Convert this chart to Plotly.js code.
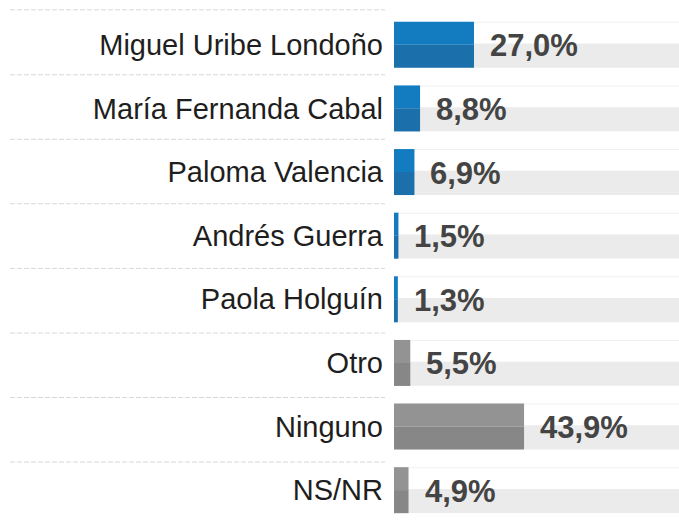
<!DOCTYPE html>
<html>
<head>
<meta charset="utf-8">
<script src="https://cdn.plot.ly/plotly-3.0.1.min.js"></script>
<style>html,body{margin:0;padding:0;background:#fff;}#chart{width:679px;height:525px;}</style>
</head>
<body>
<div id="chart"></div>
<script>
// Data
var categories = ["Miguel Uribe Londoño", "María Fernanda Cabal", "Paloma Valencia", "Andrés Guerra", "Paola Holguín", "Otro", "Ninguno", "NS/NR"];
var values = [27.0, 8.8, 6.9, 1.5, 1.3, 5.5, 43.9, 4.9];
var groups = ["candidato", "candidato", "candidato", "candidato", "candidato", "otro", "otro", "otro"];

// Styles
var XMAX = 96.2;
var topColor = {candidato: "#137cc1", otro: "#939393"};
var botColor = {candidato: "#1b70ab", otro: "#878787"};
var full = categories.map(function(){ return XMAX; });
var fmt = function(v){ return v.toFixed(1).replace(".", ",") + "%"; };

var traces = [
  { type: "bar", orientation: "h", y: categories, x: full, base: 0,
    offset: -0.02, width: 0.38, marker: {color: "#ebebeb"}, hoverinfo: "skip", showlegend: false },
  { type: "bar", orientation: "h", y: categories, x: full, base: 0,
    offset: -0.3615, width: 0.016, marker: {color: "#f1f1f1"}, hoverinfo: "skip", showlegend: false },
  { type: "bar", orientation: "h", y: categories, x: values,
    offset: -0.3615, width: 0.362, marker: {color: groups.map(function(g){ return topColor[g]; })},
    hoverinfo: "skip", showlegend: false },
  { type: "bar", orientation: "h", y: categories, x: values,
    offset: -0.0015, width: 0.363, marker: {color: groups.map(function(g){ return botColor[g]; })},
    hoverinfo: "skip", showlegend: false }
];

var annotations = categories.map(function(c, i){
  return { x: values[i], y: c, xref: "x", yref: "y", text: fmt(values[i]),
    showarrow: false, xanchor: "left", yanchor: "middle", xshift: 14, yshift: -1,
    font: {family: "Liberation Sans, Arial, sans-serif", size: 31, color: "#444444", weight: "bold"} };
});

// dashed separators in the label column (pixel rows -> paper coords)
var plotTop = 13.2, plotH = 509.1, plotLeft = 394, plotW = 285;
var sepPx = [10, 75, 139.5, 204, 268.7, 333.3, 397.8, 462.3];
var shapes = sepPx.map(function(p){
  var yp = 1 - (p - plotTop) / plotH;
  return { type: "line", xref: "paper", yref: "paper",
    x0: (10 - plotLeft) / plotW, x1: (385 - plotLeft) / plotW, y0: yp, y1: yp,
    line: {color: "#d8d8d8", width: 1, dash: "5px,2px"} };
});

var layout = {
  width: 679, height: 525,
  margin: {l: 394, r: 0, t: plotTop, b: 525 - plotTop - plotH, pad: 0},
  paper_bgcolor: "#ffffff", plot_bgcolor: "#ffffff",
  barmode: "overlay",
  showlegend: false,
  hovermode: false,
  xaxis: {range: [0, XMAX], visible: false, fixedrange: true},
  yaxis: {type: "category", range: [7.5, -0.5], showgrid: false, zeroline: false, showline: false,
    ticks: "", ticklabelstandoff: 10, fixedrange: true,
    tickfont: {family: "Liberation Sans, Arial, sans-serif", size: 29, color: "#1e1e1e"}},
  annotations: annotations,
  shapes: shapes
};

Plotly.newPlot("chart", traces, layout, {displayModeBar: false, staticPlot: true});
</script>
</body>
</html>
